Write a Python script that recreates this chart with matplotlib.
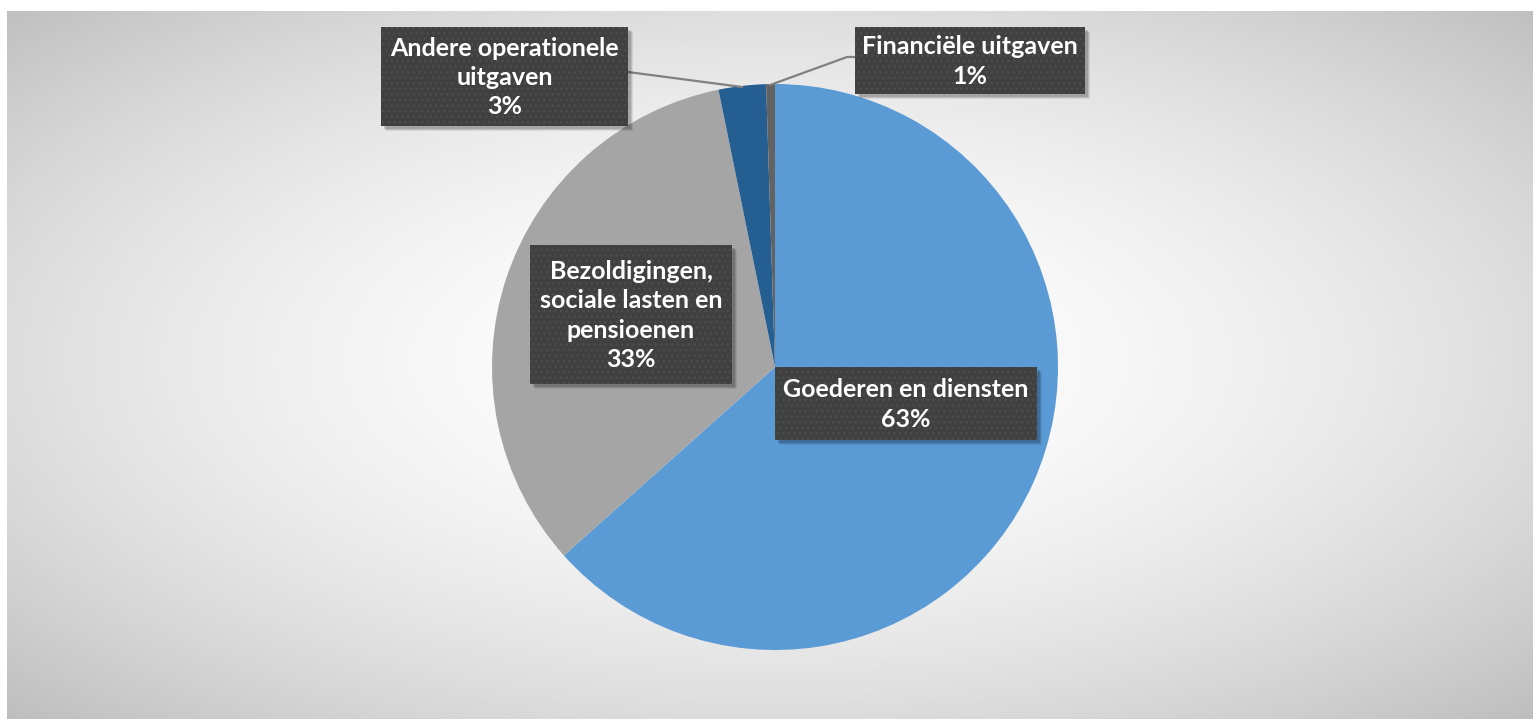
import matplotlib
matplotlib.use("Agg")
import matplotlib.pyplot as plt
import numpy as np
from matplotlib.patches import Rectangle

categories = ["Goederen en diensten", "Bezoldigingen, sociale lasten en pensioenen",
              "Andere operationele uitgaven", "Financiële uitgaven"]
values = [63.4, 33.4, 2.7, 0.5]
pct_labels = ["63%", "33%", "3%", "1%"]
label_texts = ["Goederen en diensten\n63%",
               "Bezoldigingen,\nsociale lasten en\npensioenen\n33%",
               "Andere operationele\nuitgaven\n3%",
               "Financiële uitgaven\n1%"]
colors = ["#5B9BD5", "#A5A5A5", "#255E91", "#636363"]

W, H = 1533, 720
fig = plt.figure(figsize=(W / 100, H / 100), dpi=100)
ax = fig.add_axes([0, 0, 1, 1])
ax.set_xlim(0, W)
ax.set_ylim(0, H)
ax.axis("off")

def Y(y):
    return H - y

# background radial gradient (plot area x 7..1533, y 11..719)
x0, x1, y0, y1 = 7, 1533, 11, 719
xs = np.linspace(x0, x1, 400)
ys = np.linspace(y0, y1, 200)
XX, YY = np.meshgrid(xs, ys)
cx, cy = 770, 360
a = (x1 - x0) / 2 * 1.414
b = (y1 - y0) / 2 * 1.414
r = np.sqrt(((XX - cx) / a) ** 2 + ((YY - cy) / b) ** 2)
val = (255 - 64 * np.clip(r, 0, 1.2) ** 1.8) / 255
img = np.dstack([val, val, val])
ax.imshow(img, extent=[x0, x1, Y(y1), Y(y0)], origin="upper", aspect="auto", zorder=0)

# pie
pcx, pcy, R = 775, 367, 283
wedges, _ = ax.pie(values, colors=colors, startangle=90, counterclock=False,
                   center=(pcx, Y(pcy)), radius=R, frame=True,
                   wedgeprops=dict(linewidth=0))
for w in wedges:
    w.set_zorder(2)
ax.set_xlim(0, W)
ax.set_ylim(0, H)
ax.set_aspect("auto")
ax.axis("off")

# leader lines
lc = "#808080"
ax.plot([628, 742], [Y(72), Y(87)], color=lc, lw=1.6, zorder=3)
ax.plot([770, 847, 855], [Y(85), Y(57), Y(57)], color=lc, lw=1.6, zorder=3)

plt.rcParams["hatch.linewidth"] = 1.0
plt.rcParams["hatch.color"] = "#4d4d4d"

# label boxes: (left, top, right, bottom) in pixels
boxes = [(775, 367, 1037, 440), (530, 245, 732, 384), (381, 27, 628, 126), (855, 27, 1085, 94)]
for (l, t, rr, bb), txt in zip(boxes, label_texts):
    # shadow
    for k, al in [(5, 0.08), (4, 0.10), (3, 0.14)]:
        ax.add_patch(Rectangle((l + k, Y(bb) - k), rr - l, bb - t, facecolor="black",
                               alpha=al, lw=0, zorder=4))
    ax.add_patch(Rectangle((l, Y(bb)), rr - l, bb - t, facecolor="#404040", lw=0, zorder=5))
    ax.add_patch(Rectangle((l, Y(bb)), rr - l, bb - t, facecolor="none", edgecolor="#4d4d4d",
                           hatch="...", lw=0, zorder=5.5))
    ax.text((l + rr) / 2, Y((t + bb) / 2) - 1, txt, ha="center", va="center", color="white",
            fontsize=18, fontweight="bold", family=["Lato", "DejaVu Sans"],
            linespacing=1.34, zorder=6)

fig.savefig("out.png", dpi=100, facecolor="white")
